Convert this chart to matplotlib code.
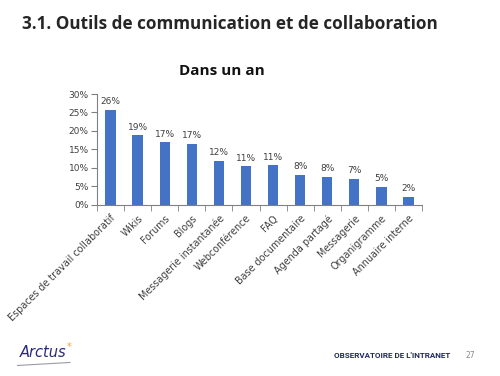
import matplotlib
matplotlib.use("Agg")
import matplotlib.pyplot as plt
import numpy as np
from matplotlib.ticker import FixedLocator

categories = ["Espaces de travail collaboratif", "Wikis", "Forums", "Blogs",
              "Messagerie instantanée", "Webconférence", "FAQ", "Base documentaire",
              "Agenda partagé", "Messagerie", "Organigramme", "Annuaire interne"]
values = [25.8, 18.8, 16.9, 16.5, 11.9, 10.4, 10.7, 8.2, 7.6, 7.0, 4.8, 2.2]
labels = ["26%", "19%", "17%", "17%", "12%", "11%", "11%", "8%", "8%", "7%", "5%", "2%"]
yticks = [0, 5, 10, 15, 20, 25, 30]
ytick_labels = ["0%", "5%", "10%", "15%", "20%", "25%", "30%"]

fig = plt.figure(figsize=(5.0, 3.76), dpi=100)
fig.patch.set_facecolor("white")

fig.text(0.044, 0.937, "3.1. Outils de communication et de collaboration",
         fontsize=12.3, fontweight="bold", family="Open Sans", color="#262626",
         ha="left", va="center")
fig.text(0.444, 0.812, "Dans un an", fontsize=11, fontweight="bold",
         family="Open Sans", color="#111111", ha="center", va="center")

ax = fig.add_axes([0.194, 0.455, 0.65, 0.295])
x = np.arange(len(categories))
ax.bar(x, values, width=0.38, color="#4472C4", zorder=2)
for xi, v, lab in zip(x, values, labels):
    ax.text(xi, v + 1.0, lab, ha="center", va="bottom", fontsize=6.5,
            color="#404040", family="DejaVu Sans")

ax.set_xlim(-0.5, len(categories) - 0.5)
ax.set_ylim(0, 30)
ax.set_yticks(yticks)
ax.set_yticklabels(ytick_labels, fontsize=6.5, color="#404040")
ax.xaxis.set_major_locator(FixedLocator(x))
ax.set_xticklabels(categories, rotation=45, ha="right", rotation_mode="anchor",
                   fontsize=6.9, color="#404040")
ax.xaxis.set_minor_locator(FixedLocator(np.arange(-0.5, len(categories), 1.0)))
ax.tick_params(axis="x", which="major", length=0, pad=6)
ax.tick_params(axis="x", which="minor", length=4, color="#808080", direction="out")
ax.tick_params(axis="y", length=4, color="#808080", direction="out", pad=2)
for s in ["top", "right"]:
    ax.spines[s].set_visible(False)
for s in ["left", "bottom"]:
    ax.spines[s].set_color("#808080")
    ax.spines[s].set_linewidth(0.8)

# footer
fig.text(0.04, 0.062, "Arctus", fontsize=10.5, style="italic", color="#2a2a7a",
         family="DejaVu Sans", ha="left", va="center")
fig.text(0.133, 0.078, "*", fontsize=7, color="#f0a030", ha="left", va="center")
fig.text(0.668, 0.055, "OBSERVATOIRE DE L'INTRANET", fontsize=5.8, fontweight="bold",
         color="#1f2a5a", ha="left", va="center", family="Roboto")
fig.text(0.94, 0.055, "27", fontsize=5.5, color="#8a8a8a", ha="center", va="center")
fig.add_artist(plt.Line2D([0.035, 0.14], [0.028, 0.036], color="#9a9aa8", lw=0.8))

fig.savefig("out.png", dpi=100)
